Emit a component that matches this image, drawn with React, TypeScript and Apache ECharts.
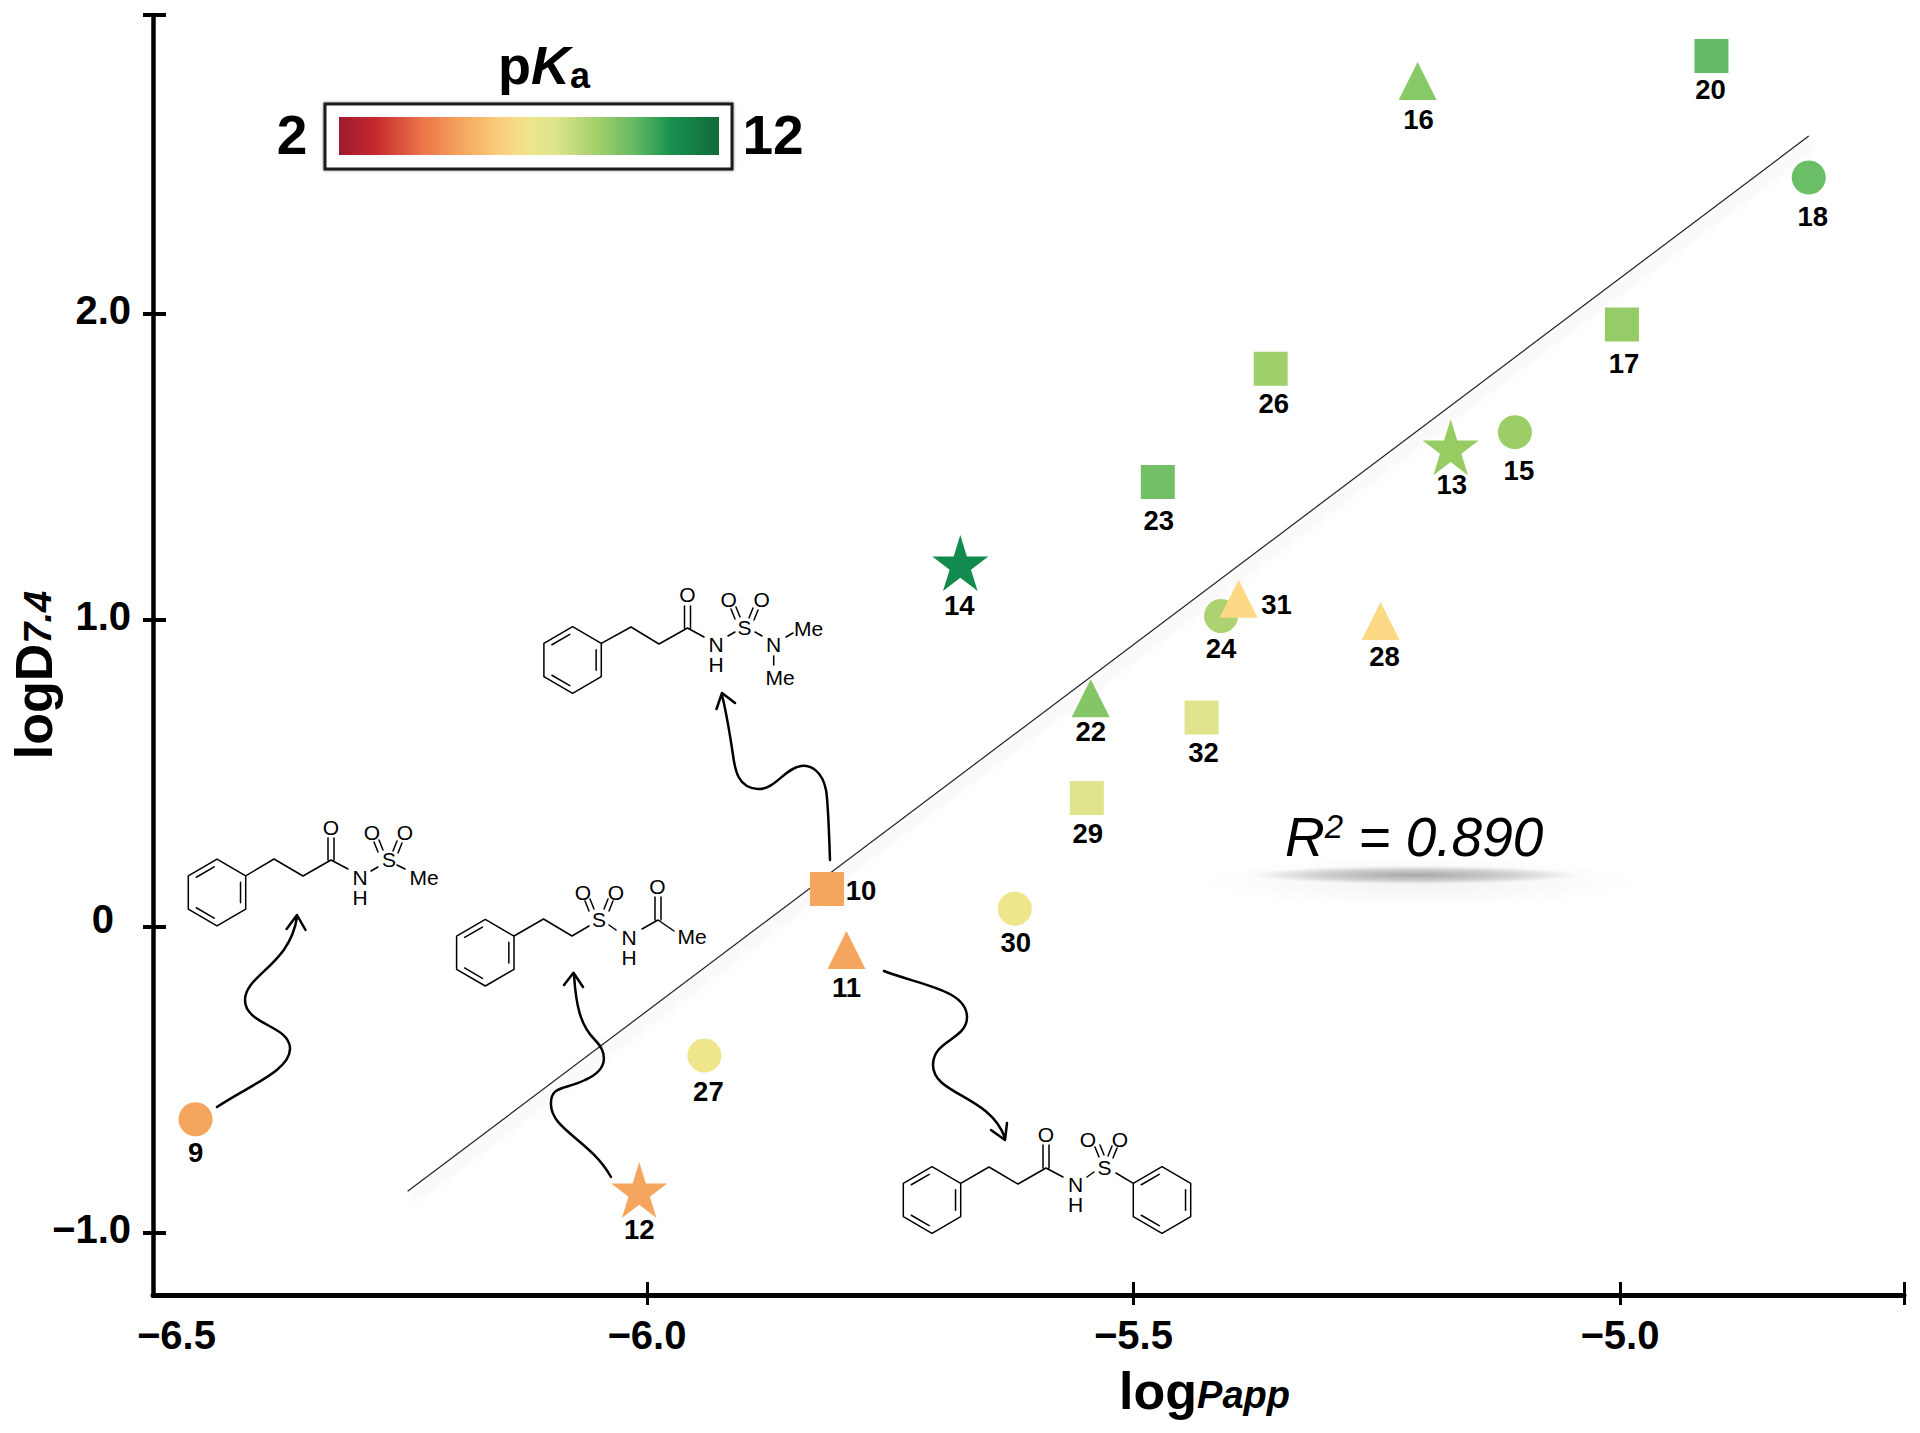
import React, { useEffect, useRef } from "react";
import * as echarts from "echarts";

const FONT = '"Liberation Sans", Arial, sans-serif';

// Compound values: [id, logPapp, logD7.4, colour]
const circles: [string, number, number, string][] = [
  ["9", -6.464, -0.629, "#F5A65E"],
  ["15", -5.108, 1.613, "#9CCD66"],
  ["18", -4.806, 2.444, "#6ABF66"],
  ["24", -5.41, 1.013, "#ADD272"],
  ["27", -5.941, -0.421, "#EFE58A"],
  ["30", -5.622, 0.058, "#EFE58A"],
];
const squares: [string, number, number, string][] = [
  ["10", -5.815, 0.122, "#F5A65E"],
  ["17", -4.998, 1.964, "#96CC67"],
  ["20", -4.906, 2.84, "#65BC66"],
  ["23", -5.475, 1.45, "#72BF66"],
  ["26", -5.359, 1.82, "#A0D06A"],
  ["29", -5.548, 0.419, "#E0E58D"],
  ["32", -5.43, 0.682, "#E0E58D"],
];
const triangles: [string, number, number, string][] = [
  ["11", -5.795, -0.077, "#F5A65E"],
  ["16", -5.208, 2.759, "#87C966"],
  ["22", -5.544, 0.745, "#84C565"],
  ["28", -5.246, 0.997, "#FDD985"],
  ["31", -5.392, 1.069, "#FDD985"],
];
const stars: [string, number, number, string][] = [
  ["12", -6.008, -0.86, "#F5A65E"],
  ["13", -5.174, 1.564, "#97CC63"],
  ["14", -5.678, 1.186, "#138A4E"],
];
const fitLine: [number, number][] = [
  [-6.246, -0.864],
  [-4.806, 2.579],
];
const xTicks = [-6, -5.5, -5];
const xLabels = [-6.5, -6, -5.5, -5];
const yTicks = [-1, 0, 1, 2];

const X_MIN = -6.5077;
const X_MAX = -4.7081;
const Y_MIN = -1.2023;
const Y_MAX = 2.974;

// Layout of each compound's number relative to its mark
const labelOffsets: Record<string, [number, number]> = {
  "9": [0, 33], "10": [34, 1], "11": [0, 37], "12": [0, 39], "13": [1, 37], "14": [-1, 42],
  "15": [4, 38], "16": [1, 39], "17": [2, 39], "18": [4, 39], "20": [-1, 33], "22": [0, 33],
  "23": [1, 38], "24": [0, 32], "26": [3, 35], "27": [4, 36], "28": [4, 36], "29": [1, 35],
  "30": [1, 34], "31": [38, 6], "32": [2, 35],
};

const STAR =
  "path://M50 0L61.8 36.3L100 36.3L69.1 58.8L80.9 95.1L50 72.6L19.1 95.1L30.9 58.8L0 36.3L38.2 36.3Z";

function hexagon(cx: number, cy: number, inner: boolean[]) {
  const dx = 28.7;
  const dy = 16.6;
  const r = 33.3;
  const v = [
    [cx, cy - r],
    [cx + dx, cy - dy],
    [cx + dx, cy + dy],
    [cx, cy + r],
    [cx - dx, cy + dy],
    [cx - dx, cy - dy],
  ];
  let d = `M${v[0][0]} ${v[0][1]}`;
  for (let i = 1; i < 6; i++) d += `L${v[i][0]} ${v[i][1]}`;
  d += "Z";
  inner.forEach((on, i) => {
    if (!on) return;
    const a = v[i];
    const b = v[(i + 1) % 6];
    const k = 0.82;
    const ax = cx + (a[0] - cx) * k;
    const ay = cy + (a[1] - cy) * k;
    const bx = cx + (b[0] - cx) * k;
    const by = cy + (b[1] - cy) * k;
    const t = 0.12;
    d += `M${ax + (bx - ax) * t} ${ay + (by - ay) * t}L${bx - (bx - ax) * t} ${by - (by - ay) * t}`;
  });
  return d;
}
const seg = (a: number, b: number, c: number, e: number) => `M${a} ${b}L${c} ${e}`;
const dbl = [false, true, false, true, false, true];

const benzeneA = hexagon(217, 892.5, dbl);
const structureA = [
  benzeneA,
  "M245.7 875.9L274 859L303 876L331 860L348 869",
  seg(328, 838, 328, 860), seg(334, 838, 334, 860),
  seg(371, 871, 378, 867),
  seg(378, 852, 374, 842), seg(383, 850, 379, 840),
  seg(393, 851, 397, 841), seg(398, 853, 402, 843),
  seg(397, 865, 405, 869),
].join("");
const structureB = [
  hexagon(572.6, 660, dbl),
  "M601.3 643.4L631 627L659 644L687.5 628L704 637",
  seg(684.5, 606, 684.5, 628), seg(690.5, 606, 690.5, 628),
  seg(728, 636, 735, 632),
  seg(735, 619, 731, 609), seg(740, 617, 736, 607),
  seg(749, 618, 753, 608), seg(754, 620, 758, 610),
  seg(755, 632, 762, 636),
  seg(786, 637, 793, 633),
  seg(773.7, 656, 773.7, 665),
].join("");
const structureC = [
  hexagon(485.3, 952.7, dbl),
  "M514 936L543.5 919L572 936L589 926",
  seg(609, 925, 616, 930), seg(642, 929, 658, 920), seg(658, 920, 674, 931),
  seg(655, 897, 655, 920), seg(661, 897, 661, 920),
  seg(594, 909, 590, 899), seg(589, 911, 585, 901),
  seg(604, 909, 608, 899), seg(609, 911, 613, 901),
].join("");
const structureD = [
  hexagon(932, 1200, dbl),
  hexagon(1162, 1200, dbl),
  "M960.7 1183.4L989 1167L1018 1184L1046 1168L1063 1177",
  seg(1043, 1145, 1043, 1168), seg(1049, 1145, 1049, 1168),
  seg(1087, 1177, 1094, 1172),
  seg(1099, 1157, 1095, 1147), seg(1104, 1155, 1100, 1145),
  seg(1108, 1156, 1112, 1146), seg(1113, 1158, 1117, 1148),
  seg(1116, 1173, 1133.3, 1183.4),
].join("");

const arrows = [
  "M217 1107C250 1085 291 1070 290 1048C289 1025 245 1025 245 1000C245 975 290 965 297 917M286.6 929L297 915L305.5 930",
  "M830 860C829 830 828 800 826 790C822 770 810 765 801 766C785 768 775 790 758 789C738 788 735 770 733 755C730 735 727 715 722 695M716.5 709L722 693L735 703",
  "M611 1177C590 1140 552 1130 551 1105C550 1085 565 1090 585 1080C612 1068 605 1050 595 1040C580 1025 576 1005 574 975M564 985L573.5 972.7L583 987",
  "M884 971C920 985 968 990 967 1018C966 1040 933 1040 933 1065C933 1095 990 1095 1005 1138M991 1130L1005 1140L1007 1123",
];

echarts.graphic.registerShape("strA", echarts.graphic.extendPath(structureA, {}));
echarts.graphic.registerShape("strB", echarts.graphic.extendPath(structureB, {}));
echarts.graphic.registerShape("strC", echarts.graphic.extendPath(structureC, {}));
echarts.graphic.registerShape("strD", echarts.graphic.extendPath(structureD, {}));
arrows.forEach((d, i) => echarts.graphic.registerShape(`arw${i}`, echarts.graphic.extendPath(d, {})));

const atoms: [string, number, number][] = [
  ["O", 331, 827], ["N", 360, 877], ["H", 360, 897], ["S", 389, 859], ["O", 372, 832], ["O", 405, 832], ["Me", 424, 877],
  ["O", 687.5, 594], ["N", 716, 644], ["H", 716, 664], ["S", 744.6, 627], ["O", 728.6, 599], ["O", 761.6, 599], ["N", 773.7, 644], ["Me", 808.6, 628], ["Me", 780, 677],
  ["S", 599, 919], ["O", 583, 892], ["O", 616, 892], ["N", 629, 937], ["H", 629, 957], ["O", 657.5, 886], ["Me", 692, 936],
  ["O", 1046, 1134], ["N", 1075.5, 1184], ["H", 1075.5, 1204], ["S", 1104.5, 1167], ["O", 1088, 1139], ["O", 1120, 1139],
];

function scatter(rows: [string, number, number, string][], symbol: string, size: number) {
  return {
    type: "scatter",
    symbol,
    symbolSize: size,
    z: 3,
    data: rows.map(([id, x, y, color]) => ({
      value: [x, y],
      itemStyle: { color, opacity: 1 },
      label: {
        show: true,
        formatter: id,
        position: "inside",
        offset: labelOffsets[id],
        color: "#000",
        fontFamily: FONT,
        fontWeight: "bold",
        fontSize: 27.5,
      },
    })),
  };
}

const boldLabel = { fontFamily: FONT, fontWeight: "bold", fontSize: 40, color: "#000" };

export default function App() {
  const ref = useRef<HTMLDivElement>(null);
  useEffect(() => {
    const chart = echarts.init(ref.current!, undefined, { renderer: "svg" });
    const strokeShape = (type: string, lineWidth: number, z = 5) => ({
      type,
      x: 0,
      y: 0,
      z,
      style: { fill: "none", stroke: "#000", lineWidth, lineCap: "round", lineJoin: "round" },
    });
    const graphics: any[] = [
      // fit annotation shadow
      {
        type: "ellipse",
        shape: { cx: 1420, cy: 882, rx: 225, ry: 26 },
        z: 1,
        style: {
          fill: new echarts.graphic.RadialGradient(0.5, 0.5, 0.5, [
            { offset: 0, color: "rgba(0,0,0,0.05)" },
            { offset: 1, color: "rgba(0,0,0,0)" },
          ]),
        },
      },
      {
        type: "ellipse",
        shape: { cx: 1415, cy: 875, rx: 165, ry: 9 },
        z: 1,
        style: {
          fill: new echarts.graphic.RadialGradient(0.5, 0.5, 0.5, [
            { offset: 0, color: "rgba(0,0,0,0.32)" },
            { offset: 0.6, color: "rgba(0,0,0,0.16)" },
            { offset: 1, color: "rgba(0,0,0,0)" },
          ]),
        },
      },
      {
        type: "text",
        x: 1285,
        y: 864,
        z: 6,
        style: {
          text: "{m|R}{s|2}{m| = 0.890}",
          verticalAlign: "bottom",
          rich: {
            m: { fontFamily: FONT, fontStyle: "italic", fontSize: 55, fill: "#000" },
            s: { fontFamily: FONT, fontStyle: "italic", fontSize: 33, fill: "#000", padding: [0, 0, 20, 0] },
          },
        },
      },
      // colour legend
      {
        type: "rect",
        shape: { x: 325, y: 104, width: 407, height: 65 },
        z: 6,
        style: { fill: "#fff", stroke: "#1a1a1a", lineWidth: 3, shadowBlur: 3, shadowColor: "rgba(0,0,0,0.5)" },
      },
      {
        type: "rect",
        shape: { x: 339, y: 117, width: 380, height: 38 },
        z: 7,
        style: {
          fill: new echarts.graphic.LinearGradient(0, 0, 1, 0, [
            { offset: 0, color: "#9E1B32" },
            { offset: 0.09, color: "#C4272B" },
            { offset: 0.22, color: "#EC7449" },
            { offset: 0.34, color: "#F6AE61" },
            { offset: 0.44, color: "#F9D481" },
            { offset: 0.5, color: "#EFE58A" },
            { offset: 0.57, color: "#DCE58D" },
            { offset: 0.68, color: "#A3CF6A" },
            { offset: 0.78, color: "#62B964" },
            { offset: 0.875, color: "#189050" },
            { offset: 1, color: "#0F6A3A" },
          ]),
        },
      },
      {
        type: "text",
        x: 292,
        y: 135,
        z: 7,
        style: { text: "2", fontFamily: FONT, fontWeight: "bold", fontSize: 55, fill: "#000", align: "center", verticalAlign: "middle" },
      },
      {
        type: "text",
        x: 773,
        y: 135,
        z: 7,
        style: { text: "12", fontFamily: FONT, fontWeight: "bold", fontSize: 55, fill: "#000", align: "center", verticalAlign: "middle" },
      },
      {
        type: "text",
        x: 498,
        y: 92,
        z: 7,
        style: {
          text: "{p|p}{k|K}",
          verticalAlign: "bottom",
          rich: {
            p: { fontFamily: FONT, fontWeight: "bold", fontSize: 54, fill: "#000" },
            k: { fontFamily: FONT, fontWeight: "bold", fontStyle: "italic", fontSize: 54, fill: "#000" },
          },
        },
      },
      {
        type: "text",
        x: 580,
        y: 75,
        z: 7,
        style: { text: "a", fontFamily: FONT, fontWeight: "bold", fontSize: 36, fill: "#000", align: "center", verticalAlign: "middle" },
      },
      // structures
      strokeShape("strA", 1.5),
      strokeShape("strB", 1.5),
      strokeShape("strC", 1.5),
      strokeShape("strD", 1.5),
      ...arrows.map((_, i) => strokeShape(`arw${i}`, 2.5)),
      ...atoms.map(([text, x, y]) => ({
        type: "text",
        x,
        y,
        z: 5,
        style: { text, fontFamily: FONT, fontSize: 21, fill: "#000", align: "center", verticalAlign: "middle" },
      })),
    ];

    const xBase = { type: "value", min: X_MIN, max: X_MAX, gridIndex: 0, splitLine: { show: false } };
    const yBase = { type: "value", min: Y_MIN, max: Y_MAX, gridIndex: 0, splitLine: { show: false } };
    chart.setOption({
      animation: false,
      backgroundColor: "#fff",
      textStyle: { fontFamily: FONT },
      grid: { left: 153, top: 15, width: 1751, height: 1280, containLabel: false, outerBoundsMode: "none" },
      xAxis: [
        {
          ...xBase,
          position: "bottom",
          axisLine: { show: true, onZero: false, lineStyle: { color: "#000", width: 5 } },
          axisTick: { show: true, length: 10, customValues: [...xTicks, X_MAX], lineStyle: { color: "#000", width: 3 } },
          axisLabel: {
            show: true,
            margin: 20,
            customValues: xLabels,
            hideOverlap: false,
            ...boldLabel,
            rich: { first: { ...boldLabel, padding: [0, 0, 0, 32] } },
            formatter: (v: number) => {
              const s = `\u2212${Math.abs(v).toFixed(1)}`;
              return v === -6.5 ? `{first|${s}}` : s;
            },
          },
          name: "{l|log}{p|Papp}",
          nameLocation: "middle",
          nameGap: 70,
          nameMoveOverlap: false,
          nameTextStyle: {
            padding: [0, 0, 0, 352],
            rich: {
              l: { fontFamily: FONT, fontWeight: "bold", fontSize: 52, color: "#000" },
              p: { fontFamily: FONT, fontWeight: "bold", fontStyle: "italic", fontSize: 38, color: "#000", padding: [8, 0, 0, 0] },
            },
          },
        },
        {
          ...xBase,
          position: "bottom",
          axisLine: { show: false, onZero: false },
          axisLabel: { show: false },
          axisTick: { show: true, inside: true, length: 13, customValues: [...xTicks, X_MAX], lineStyle: { color: "#000", width: 3 } },
        },
      ],
      yAxis: [
        {
          ...yBase,
          position: "left",
          axisLine: { show: true, onZero: false, lineStyle: { color: "#000", width: 4.5 } },
          axisTick: { show: true, length: 10, customValues: [...yTicks, Y_MAX], lineStyle: { color: "#000", width: 4 } },
          axisLabel: {
            show: true,
            margin: 22,
            customValues: yTicks,
            hideOverlap: false,
            ...boldLabel,
            padding: [0, 0, 8, 0],
            rich: { z: { ...boldLabel, padding: [0, 17, 8, 0] } },
            formatter: (v: number) => {
              if (v === 0) return "{z|0}";
              return v < 0 ? `\u2212${Math.abs(v).toFixed(1)}` : v.toFixed(1);
            },
          },
          name: "{l|logD}{p|7.4}",
          nameLocation: "middle",
          nameRotate: 90,
          nameGap: 93,
          nameMoveOverlap: false,
          nameTextStyle: {
            padding: [0, 40, 0, 0],
            rich: {
              l: { fontFamily: FONT, fontWeight: "bold", fontSize: 52, color: "#000" },
              p: { fontFamily: FONT, fontWeight: "bold", fontStyle: "italic", fontSize: 38, color: "#000", padding: [8, 0, 0, 0] },
            },
          },
        },
        {
          ...yBase,
          position: "left",
          axisLine: { show: false, onZero: false },
          axisLabel: { show: false },
          axisTick: { show: true, inside: true, length: 13, customValues: [...yTicks, Y_MAX], lineStyle: { color: "#000", width: 4 } },
        },
      ],
      series: [
        {
          type: "line",
          data: fitLine,
          symbol: "none",
          z: 2,
          lineStyle: { color: "#222", width: 1.2, shadowColor: "rgba(0,0,0,0.28)", shadowBlur: 12, shadowOffsetX: 4, shadowOffsetY: 7 },
        },
        scatter(circles, "circle", 34),
        scatter(squares, "rect", 34),
        scatter(triangles, "triangle", 38),
        scatter(stars, STAR, 56),
      ],
      graphic: graphics,
    });
    return () => chart.dispose();
  }, []);
  return <div ref={ref} style={{ position: "absolute", left: 0, top: 0, width: 1920, height: 1433 }} />;
}
